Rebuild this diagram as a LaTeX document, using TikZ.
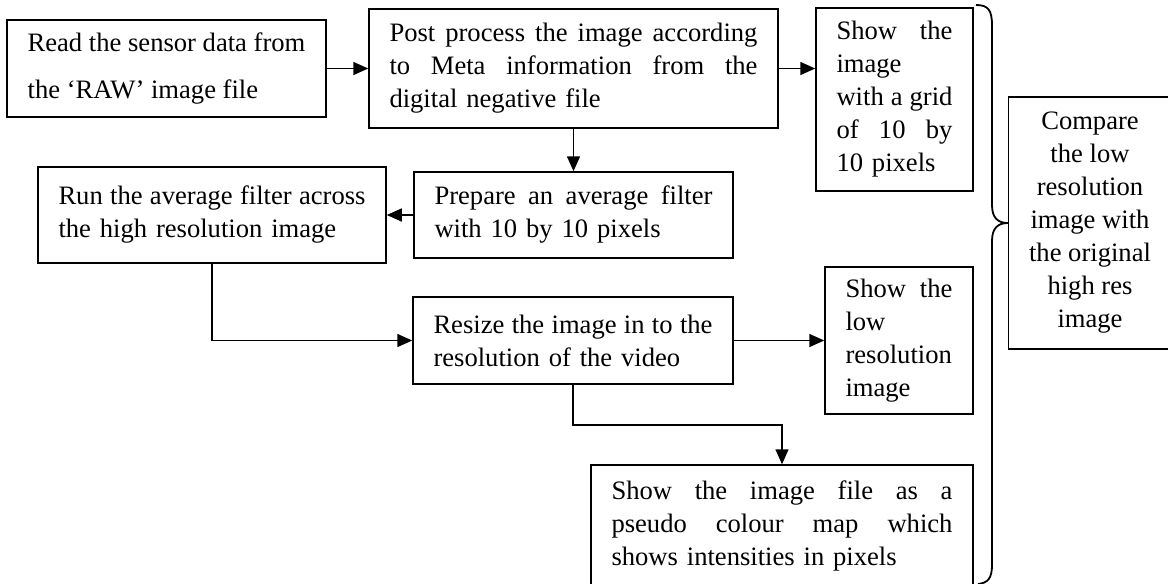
\documentclass[tikz,border=0pt]{standalone}
\usepackage{fontspec}
\setmainfont{Liberation Serif}
\usetikzlibrary{arrows.meta,positioning}

\begin{document}
\begin{tikzpicture}[x=0.5pt,y=-0.5pt,line width=0.75pt,
            >={Triangle[length=7.5pt,width=6.5pt]},
            proc node/.style={draw,rectangle,inner xsep=10.25pt,inner ysep=0pt,
              align=left,font=\fontsize{13.3}{16.5}\selectfont},
            sum node/.style={proc node,align=center}]

        \useasboundingbox (0,0) rectangle (1168,584);
        \clip (0,0) rectangle (1168,584);

        \node[proc node,minimum width=159.5pt,minimum height=48.5pt,
              font=\fontsize{13.3}{23.5}\selectfont] (read) at (166.5,68.5)
            {Read the sensor data from\\the `RAW' image file};
        \node[proc node,text width=184pt,minimum height=59.5pt] (post) at (573.5,68.5)
            {Post\hfill process\hfill the\hfill image\hfill according\\
             to\hfill Meta\hfill information\hfill from\hfill the\\
             digital negative file};
        \node[proc node,text width=58pt,minimum height=91.5pt] (grid) at (894.5,99.5)
            {Show\hfill the\\image\\with\hfill a\hfill grid\\of\hfill 10\hfill by\\10 pixels};
        \node[proc node,text width=139pt,minimum height=43pt] (prep) at (573.5,215)
            {Prepare\hfill an\hfill average\hfill filter\\with 10 by 10 pixels};
        \node[proc node,text width=153.5pt,minimum height=48pt] (run) at (212,215)
            {Run\hfill the\hfill average\hfill filter\hfill across\\the high resolution image};
        \node[proc node,text width=139.5pt,minimum height=43.5pt] (resize) at (573,340.5)
            {Resize\hfill the\hfill image\hfill in\hfill to\hfill the\\resolution of the video};
        \node[proc node,text width=53.5pt,minimum height=73.5pt] (low) at (899,340.5)
            {Show\hfill the\\low\\resolution\\image};
        \node[proc node,text width=170.5pt,minimum height=60.5pt] (pseudo) at (782,525.5)
            {Show\hfill the\hfill image\hfill file\hfill as\hfill a\\
             pseudo\hfill colour\hfill map\hfill which\\
             shows intensities in pixels};
        \node[sum node,minimum width=76pt,minimum height=126pt] (comp) at (1090,223)
            {Compare\\the low\\resolution\\image with\\the original\\high res\\image};

        \draw[->] (read.east) -- (read.east -| post.west);
        \draw[->] (post.east) -- (post.east -| grid.west);
        \draw[->] (post.south) -- (prep.north);
        \draw[->] (prep.west) -- (run.east);
        \draw[->] (run.south) |- (resize.west);
        \draw[->] (resize.east) -- (low.west);
        \draw[->] (resize.south) -- ++(0,40) -| (pseudo.north);

        % brace
        \draw[line width=0.9pt] (976,5) .. controls (988,5) and (992,10) .. (992,25) -- (992,205)
            .. controls (992,218) and (998,223) .. (1008,223)
            .. controls (998,223) and (992,228) .. (992,241) -- (992,565)
            .. controls (992,578) and (988,583) .. (978,584);

    \end{tikzpicture}
\end{document}
